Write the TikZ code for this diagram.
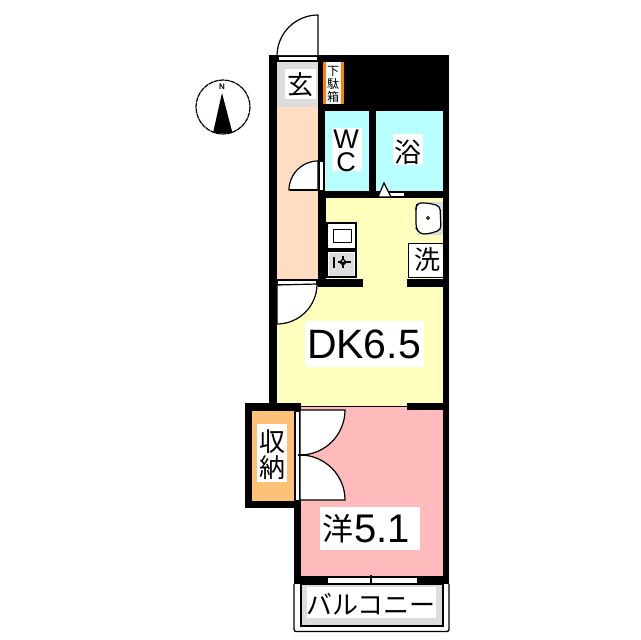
\documentclass[tikz,border=0pt]{standalone}
\usepackage{fontspec}
\setmainfont{Liberation Sans}
\newfontfamily\cjk{Noto Sans CJK JP}
\definecolor{peach}{HTML}{FFDDC0}
\definecolor{aqua}{HTML}{B8FFFF}
\definecolor{cream}{HTML}{FFFFBE}
\definecolor{rosy}{HTML}{FFBBBB}
\definecolor{amber}{HTML}{FFC078}
\definecolor{shoe}{HTML}{FF8000}
\definecolor{pale}{HTML}{DDDDDD}
\newcommand{\rc}[5]{\fill[#1] (#2,#3) rectangle (#4,#5);}
\tikzset{
  x=1pt,y=-1pt,
  door/.style={draw=black,line width=1.2pt,fill=white},
  lbl/.style={inner sep=0pt,font=\cjk,text=black},
  lat/.style={inner sep=0pt,text=black}
}
\begin{document}
\begin{tikzpicture}
\useasboundingbox (0,0) rectangle (641,640);
\rc{white}{0}{0}{641}{640}
% walls
\rc{black}{269}{55}{449}{410}
\rc{black}{443}{400}{449}{584}
\rc{black}{245}{403}{301}{508}
\rc{black}{294}{403}{301}{584}
\rc{black}{294}{576}{449}{584}
% rooms
\rc{peach}{277}{107}{318}{280}
\rc{pale}{277}{62}{318}{107}
\rc{white}{285}{69}{316}{99}
\rc{shoe}{323}{62}{344}{104}
\rc{white}{326}{62}{341}{104}
\rc{aqua}{325}{111}{369}{191}
\rc{aqua}{376}{111}{443}{191}
\rc{white}{332}{128}{362}{171}
\rc{white}{393}{134}{423}{165}
\rc{cream}{325.5}{198}{443}{405.5}
\rc{cream}{277}{286}{443}{405.5}
\rc{black}{318}{279}{363}{287}
\rc{black}{407}{279}{443}{287}
\rc{black}{277}{403}{301}{410}
\rc{black}{407}{403}{443}{410}
\rc{black}{300}{405.5}{407}{407}
\rc{rosy}{301}{407}{407}{576}
\rc{rosy}{407}{410}{443}{576}
\rc{amber}{252}{411}{294}{501}
\rc{white}{257}{424}{287}{482}
\rc{white}{295}{411}{299}{500}
\rc{white}{305}{321}{424}{367}
\rc{white}{320}{507}{420}{550}
% entrance door
\fill[white] (277,55) rectangle (318,62);
\draw[door] (278,56) rectangle (318,61);
\draw[door] (318,55) -- (318,15) arc[start angle=-90,end angle=-180,radius=41] -- (277,55);
% WC door
\fill[white] (319,161) rectangle (324,191);
\draw[door] (319,161) rectangle (324,191);
\draw[door] (318,190) -- (318,161) arc[start angle=-90,end angle=-180,radius=29] -- cycle;
\draw[line width=1.5pt] (290,190) -- (318,190);
% bath door
\draw[door] (378,192) rectangle (405,197);
\draw[door] (378,197) -- (384,183) -- (391,197) -- cycle;
% hall door
\draw[door] (277,280) rectangle (317,285);
\draw[door] (277,285) -- (277,324) arc[start angle=90,end angle=0,radius=40] -- cycle;
% closet doors
\draw[door,line width=1pt] (295,411) rectangle (299.5,500);
\draw[door] (300,455) -- (300,410) -- (345,410) arc[start angle=0,end angle=90,radius=45];
\draw[door] (300,455) -- (300,500) -- (345,500) arc[start angle=0,end angle=-90,radius=45];
\draw[line width=2pt] (298,455) -- (308,455);
% kitchen
\draw[door] (327,223) rectangle (356,249);
\draw[door,line width=1pt] (333,229) rectangle (351,242);
\draw[door] (327,251) rectangle (356,277);
\rc{pale}{329}{253}{354}{276}
\draw[line width=1.2pt] (334,257) -- (334,268);
\draw[line width=1.2pt] (338,262) -- (351,262);
\draw[line width=1.2pt] (343,256) -- (343,268);
\fill (343,258) -- (347,262) -- (343,266) -- (339,262) -- cycle;
\fill[white] (343,261) circle (1);
% wash basin
\rc{pale}{417}{202}{443}{235}
\draw[door,rounded corners=4pt] (417,203) -- (428,203) -- (440,206) -- (441,230) -- (428,234) -- (420,234) -- (416,228) -- (416,208) -- cycle;
\rc{white}{420}{209}{437}{229}
\draw[line width=1pt] (428,218) circle (1.5);
% washer
\draw[door,line width=1pt] (408,243) rectangle (443,277);
% bottom window
\rc{white}{327}{577}{417}{584}
\draw[draw=black,line width=1pt] (327,577) rectangle (417,584);
\draw[line width=1.2pt] (371,575) -- (371,587);
% balcony
\draw[line width=1.3pt,rounded corners=2pt] (294,584) -- (294,631.5) -- (449,631.5) -- (449,584);
\draw[draw=black,fill=pale,line width=1.2pt] (301,584) -- (301,626) -- (443,626) -- (443,584) -- cycle;
\rc{white}{307}{587}{436}{618}
% compass
\draw[line width=1.2pt,dash pattern=on 5pt off 0.6pt] (223,107) circle (27);
\fill (222,93) -- (232.5,133) -- (213,133) -- cycle;
% texts
\node[lbl,font=\cjk\fontsize{26}{26}\selectfont] (genkan) at (300,85) {玄};
\node[lbl,font=\cjk\fontsize{12}{12}\selectfont] (geta1) at (333,71) {下};
\node[lbl,font=\cjk\fontsize{12}{12}\selectfont] (geta2) at (333,84) {駄};
\node[lbl,font=\cjk\fontsize{12}{12}\selectfont] (geta3) at (333,97) {箱};
\node[lat,font=\fontsize{27}{27}\selectfont] (w) at (346,139) {W};
\node[lat,font=\fontsize{27}{27}\selectfont] (c) at (346,162) {C};
\node[lbl,font=\cjk\fontsize{27}{27}\selectfont] (yoku) at (408,152) {浴};
\node[lbl,font=\cjk\fontsize{26}{26}\selectfont] (sen) at (427,260) {洗};
\node[lat,font=\fontsize{41}{41}\selectfont] (dk) at (364,344) {DK6.5};
\node[lbl,font=\cjk\fontsize{31}{31}\selectfont,anchor=east] (yo) at (354,529) {洋};
\node[lat,font=\fontsize{40}{40}\selectfont,anchor=west] (num) at (354,529) {5.1};
\node[lbl,font=\cjk\fontsize{26}{26}\selectfont] (shu) at (272,442) {収};
\node[lbl,font=\cjk\fontsize{26}{26}\selectfont] (no) at (272,468) {納};
\node[lbl,font=\cjk\fontsize{26}{26}\selectfont] (bal) at (371,604) {バルコニー};
\node[lat,font=\bfseries\fontsize{8}{8}\selectfont] (north) at (222,87) {N};
\end{tikzpicture}
\end{document}
